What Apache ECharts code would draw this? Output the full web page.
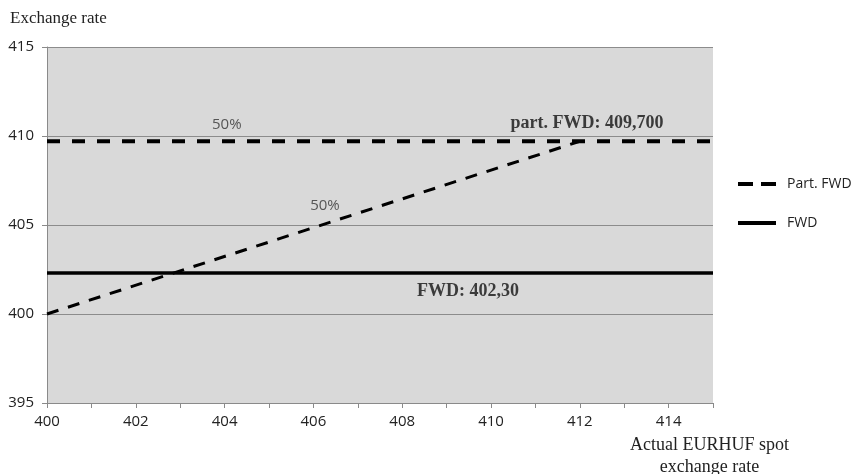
<!DOCTYPE html>
<html><head><meta charset="utf-8">
<script src="https://cdn.jsdelivr.net/npm/echarts@6/dist/echarts.min.js"></script>
<style>html,body{margin:0;padding:0;background:#fff}#c{width:855px;height:474px}</style>
</head><body><div id="c"></div>
<script>
// Data
const spotX = [400, 415];
const partFwdFlat = [409.7, 409.7];
const partFwdSlopeX = [400, 412];
const partFwdSlopeY = [400, 409.7];
const fwdValue = [402.3, 402.3];
const legendNames = ['Part. FWD', 'FWD'];
const annotationText = ['50%', '50%', 'part. FWD: 409,700', 'FWD: 402,30'];
const annotationX = [404.05, 406.26, 412.16, 409.48];
const annotationY = [410.62, 406.07, 410.73, 401.29];
const annotationBold = [false, false, true, true];

const chart = echarts.init(document.getElementById('c'));
const option = {
  animation: false,
  backgroundColor: '#fff',
  grid: { left: 47, right: 142, top: 47, bottom: 71, show: true, backgroundColor: '#d9d9d9', borderWidth: 0 },
  title: { text: 'Exchange rate', left: 5, top: 5, textStyle: { fontFamily: 'Liberation Serif', fontSize: 17, fontWeight: 'normal', color: '#222' } },
  legend: {
    orient: 'vertical', left: 731, top: 172, itemWidth: 38, itemHeight: 14, itemGap: 25,
    data: [
      { name: legendNames[0], lineStyle: { width: 4, type: [15, 8] } },
      { name: legendNames[1], lineStyle: { width: 4 } }
    ],
    itemStyle: { opacity: 0 },
    textStyle: { fontFamily: 'Open Sans', fontSize: 14, color: '#222', padding: [0, 0, 0, 6] }
  },
  xAxis: {
    type: 'value', min: 400, max: 415, interval: 1,
    axisLine: { show: true, lineStyle: { color: '#8a8a8a', width: 1 } },
    axisTick: { show: true, length: 5, lineStyle: { color: '#8a8a8a' } },
    splitLine: { show: false },
    axisLabel: { margin: 11, fontFamily: 'Open Sans', fontSize: 15, color: '#222',
      formatter: v => (v % 2 === 0 ? String(v) : '') }
  },
  yAxis: {
    type: 'value', min: 395, max: 415, interval: 5,
    axisLine: { show: true, lineStyle: { color: '#8a8a8a', width: 1 } },
    axisTick: { show: true, length: 5, lineStyle: { color: '#8a8a8a' } },
    splitLine: { show: true, lineStyle: { color: '#8c8c8c', width: 1 } },
    axisLabel: { margin: 13, fontFamily: 'Open Sans', fontSize: 15, color: '#222' }
  },
  graphic: [{
    type: 'text', left: 630, top: 434,
    style: { text: 'Actual EURHUF spot\nexchange rate', textAlign: 'center', fontFamily: 'Liberation Serif', fontSize: 18, lineHeight: 22, fill: '#222' }
  }],
  series: [
    { name: legendNames[0], type: 'line', symbol: 'none', data: spotX.map((x, i) => [x, partFwdFlat[i]]),
      lineStyle: { color: '#000', width: 4, type: [13, 12] }, itemStyle: { color: '#000' } },
    { name: legendNames[0], type: 'line', symbol: 'none', data: partFwdSlopeX.map((x, i) => [x, partFwdSlopeY[i]]),
      lineStyle: { color: '#000', width: 3, type: [12, 10] }, itemStyle: { color: '#000' } },
    { name: legendNames[1], type: 'line', symbol: 'none', data: spotX.map((x, i) => [x, fwdValue[i]]),
      lineStyle: { color: '#000', width: 3.5 }, itemStyle: { color: '#000' } },
    { name: 'labels', type: 'scatter', symbolSize: 0, silent: true,
      data: annotationText.map((t, i) => ({
        value: [annotationX[i], annotationY[i]],
        label: { show: true, position: 'inside', formatter: t,
          fontFamily: annotationBold[i] ? 'Liberation Serif' : 'Open Sans',
          fontWeight: annotationBold[i] ? 'bold' : 'normal',
          fontSize: annotationBold[i] ? 18 : 15, color: annotationBold[i] ? '#111' : '#333' }
      })) }
  ]
};
chart.setOption(option);
</script></body></html>
